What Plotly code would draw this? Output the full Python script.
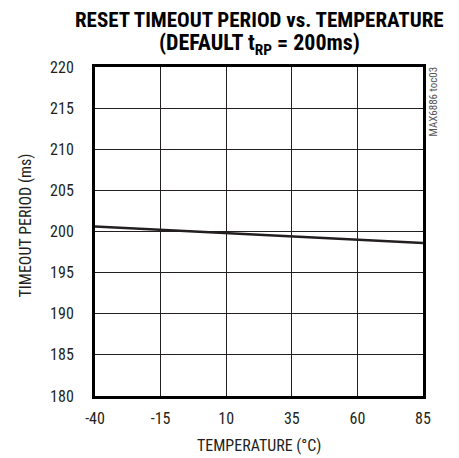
import plotly.graph_objects as go

temperature = [-40, -15, 10, 35, 60, 85]
timeout_ms = [200.6, 200.2, 199.8, 199.4, 199.0, 198.6]

x_ticks = [-40, -15, 10, 35, 60, 85]
y_ticks = [180, 185, 190, 195, 200, 205, 210, 215, 220]

FONT = "Roboto Condensed, Liberation Sans, sans-serif"
INK = "#231f20"

fig = go.Figure()
fig.add_trace(go.Scatter(x=temperature, y=timeout_ms, mode="lines",
                         line=dict(color=INK, width=2.6), showlegend=False))

# page body has an 8px default margin, so the figure is 8px smaller and shifted
fig.update_layout(
    width=451, height=450,
    margin=dict(l=87, r=36, t=59, b=62, autoexpand=False),
    paper_bgcolor="white", plot_bgcolor="white",
    font=dict(family=FONT, color=INK, size=16),
    xaxis=dict(range=[-40, 85], tickvals=x_ticks, ticktext=[str(v) for v in x_ticks],
               showgrid=True, gridcolor=INK, gridwidth=1,
               showline=True, linecolor="#000", linewidth=3, mirror=True,
               zeroline=False, ticks="outside", ticklen=6, tickcolor="rgba(0,0,0,0)",
               tickfont=dict(size=16, family=FONT, color=INK), automargin=False),
    yaxis=dict(range=[180, 220], tickvals=y_ticks, ticktext=[str(v) for v in y_ticks],
               showgrid=True, gridcolor=INK, gridwidth=1,
               showline=True, linecolor="#000", linewidth=3, mirror=True,
               zeroline=False, ticks="outside", ticklen=15, tickcolor="rgba(0,0,0,0)",
               tickfont=dict(size=16, family=FONT, color=INK), automargin=False),
    annotations=[
        dict(text="<b>RESET TIMEOUT PERIOD vs. TEMPERATURE</b>", xref="paper", yref="paper",
             x=0.5, y=1, yshift=47, xanchor="center", yanchor="middle", showarrow=False,
             borderpad=0, font=dict(size=21, family=FONT, color="#000")),
        dict(text="<b>(DEFAULT t<sub>RP</sub> = 200ms)</b>", xref="paper", yref="paper",
             x=0.5, y=1, yshift=23, xanchor="center", yanchor="middle", showarrow=False,
             borderpad=0, font=dict(size=22, family=FONT, color="#000")),
        dict(text="TEMPERATURE (°C)", xref="paper", yref="paper",
             x=0.5, y=0, yshift=-49, xanchor="center", yanchor="middle", showarrow=False,
             font=dict(size=16, family=FONT, color=INK)),
        dict(text="TIMEOUT PERIOD (ms)", xref="paper", yref="paper",
             x=0, y=0.5, xshift=-70, yshift=6, xanchor="center", yanchor="middle",
             textangle=-90, showarrow=False,
             font=dict(size=16, family=FONT, color=INK)),
        dict(text="MAX6886 toc03", xref="paper", yref="paper", x=1, y=1, xshift=1, yshift=2,
             xanchor="left", yanchor="top", textangle=-90, showarrow=False,
             font=dict(size=11, family=FONT, color="#555")),
    ],
)

fig.write_html("out.html")
